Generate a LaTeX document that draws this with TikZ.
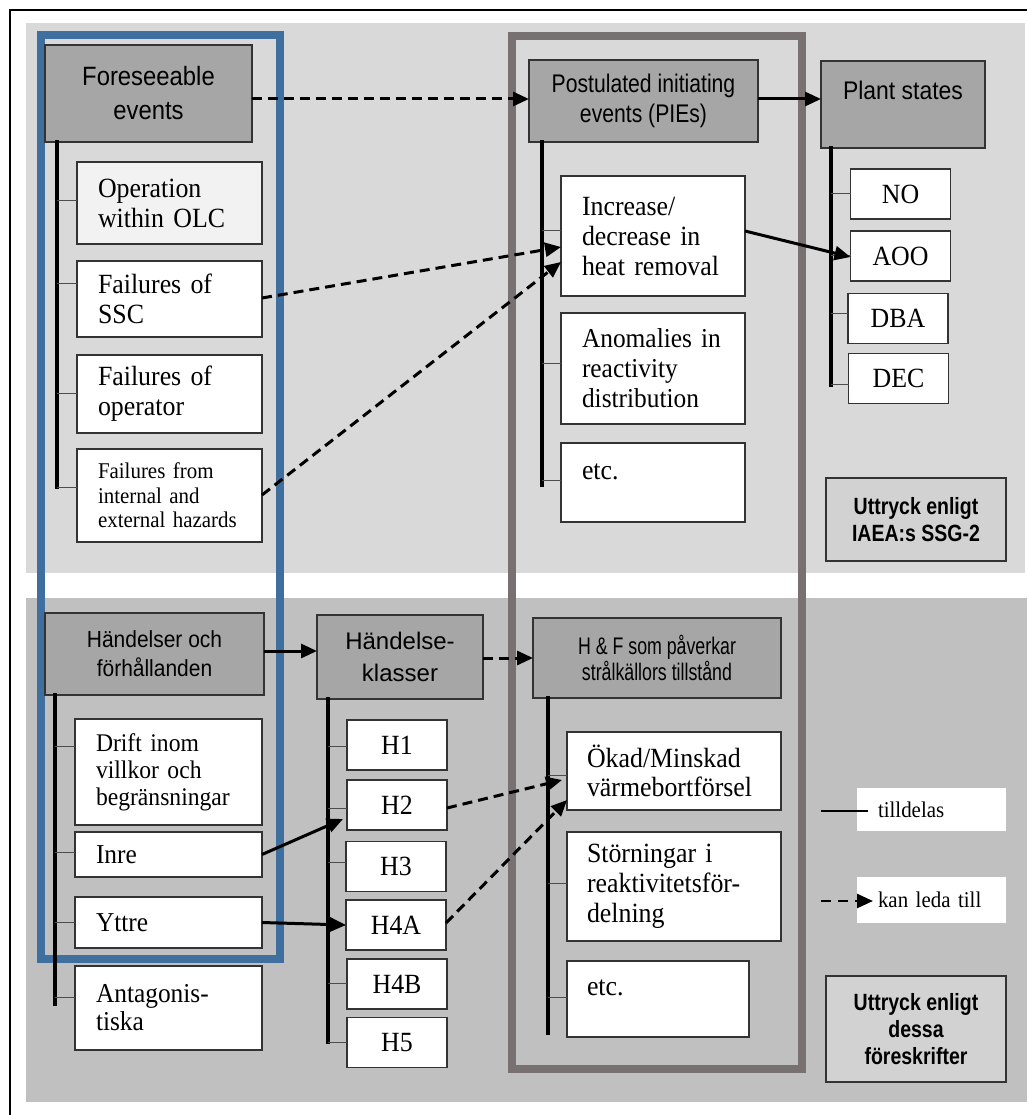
\documentclass[tikz,border=0pt]{standalone}
\usepackage{fontspec}
\setmainfont{Liberation Serif}[FakeStretch=0.93]
\setsansfont{Liberation Sans}
\newfontfamily\sfnine{Liberation Sans}[FakeStretch=0.9]
\newfontfamily\sfeight{Liberation Sans}[FakeStretch=0.83]
\newfontfamily\sfseven{Liberation Sans}[FakeStretch=0.74]
\usetikzlibrary{arrows.meta,calc}
\definecolor{panelA}{HTML}{D9D9D9}
\definecolor{panelB}{HTML}{C0C0C0}
\definecolor{hdr}{HTML}{A6A6A6}
\definecolor{notefill}{HTML}{D2D2D2}
\definecolor{offw}{HTML}{F2F2F2}
\definecolor{frameblue}{HTML}{3F6F9E}
\definecolor{framegray}{HTML}{777171}
\definecolor{edge}{HTML}{333333}
\newcommand\fsz[2]{\fontsize{#1}{#2}\selectfont}

\begin{document}
\begin{tikzpicture}[x=1pt,y=-1pt,
  box/.style={draw=edge, line width=1.4pt, inner sep=0pt, outer sep=0pt},
  head/.style={box, fill=hdr, align=center},
  leaf/.style={box, fill=white, inner xsep=21pt, align=left},
  hbox/.style={box, fill=white, minimum width=100pt, minimum height=50pt, font=\fsz{27.8}{30}},
  note/.style={box, fill=notefill, align=center, minimum width=180pt, font=\sfeight\bfseries\fsz{23.5}{27}},
  legend/.style={fill=white, inner xsep=21pt, inner ysep=0pt, text width=107pt, align=left, font=\fsz{22.5}{24}},
  trunk/.style={line width=3.5pt, line cap=rect},
  twig/.style={line width=1pt, draw=black!70},
  tip/.style={-{Triangle[length=16pt,width=14pt]}},
  arr/.style={line width=3pt, tip},
  darr/.style={arr, dash pattern=on 10pt off 6pt},
]
\useasboundingbox (0,0) rectangle (1027,1115);

% outer frame and the two panels
\draw[line width=2pt] (10,1115) -- (10,10) -- (1027,10);
\fill[panelA] (26,23) rectangle (1025,573);
\fill[panelB] (26,598) rectangle (1027,1102);

% grouping frames
\draw[frameblue, line width=8pt] (41,35) rectangle (280,959);
\draw[framegray, line width=8pt] (512,36) rectangle (802,1069);

% ---------- upper panel ----------
\node[head, minimum width=207pt, minimum height=97pt, font=\sfnine\fsz{26.5}{34}] (fore) at (148.5,93.5) {Foreseeable\\events};
\node[head, minimum width=229pt, minimum height=82pt, font=\sfeight\fsz{25.5}{30}] (pie) at (643.5,101) {Postulated initiating\\events (PIEs)};
\node[head, minimum width=164pt, minimum height=87pt, font=\sfnine\fsz{25.5}{28}, text height=18pt, text depth=27pt] (plant) at (903,104.5) {Plant states};

\node[leaf, fill=offw, text width=143pt, minimum height=82pt, font=\fsz{27.8}{30}] (opw) at (169.5,203) {Operation\\within OLC};
\node[leaf, text width=143pt, minimum height=76pt, font=\fsz{27.8}{30}] (ssc) at (169.5,299) {Failures of\\SSC};
\node[leaf, text width=143pt, minimum height=78pt, font=\fsz{27.8}{30}] (opr) at (169.5,394) {Failures of\\operator};
\node[leaf, text width=143pt, minimum height=93pt, font=\fsz{22.5}{24.5}] (haz) at (169.5,495.5) {Failures from\\internal and\\\mbox{external hazards}};

\node[leaf, text width=142pt, minimum height=120pt, font=\fsz{27.8}{30}] (inc) at (653,236) {Increase/\\decrease in\\heat removal};
\node[leaf, text width=142pt, minimum height=111pt, font=\fsz{27.3}{30}] (ano) at (653,368.5) {\mbox{Anomalies in}\\reactivity\\distribution};
\node[leaf, text width=142pt, minimum height=79pt, font=\fsz{27.8}{30}, text height=19pt, text depth=26pt] (etcA) at (653,482.5) {etc.};

\node[hbox] (no)  at (900.5,194) {NO};
\node[hbox] (aoo) at (900.5,256) {AOO};
\node[hbox] (dba) at (898,318.5) {DBA};
\node[hbox] (dec) at (898.5,378.5) {DEC};

\node[note, minimum height=83pt] (uttA) at (916,519.5) {Uttryck enligt\\IAEA:s SSG-2};

% trees of the upper panel
\draw[trunk] (fore.south -| 57,0) -- (57,487);
\foreach \n/\y in {opw/201, ssc/283, opr/393, haz/487}
  \draw[twig] (57,\y) -- (\n.west |- 0,\y);
\draw[trunk] (pie.south -| 542,0) -- (542,485);
\foreach \n/\y in {inc/231, ano/363, etcA/480}
  \draw[twig] (542,\y) -- (\n.west |- 0,\y);
\draw[trunk] (plant.south -| 831,0) -- (831,385);
\foreach \n/\y in {no/194, aoo/255, dba/313, dec/384}
  \draw[twig] (831,\y) -- (\n.west |- 0,\y);

% ---------- lower panel ----------
\node[head, minimum width=219pt, minimum height=82pt, font=\sfnine\fsz{23.3}{29}] (hf) at (154.5,654) {Händelser och\\förhållanden};
\node[head, minimum width=166pt, minimum height=84pt, font=\sffamily\fsz{24}{32}] (hk) at (400,657) {Händelse-\\klasser};
\node[head, minimum width=248pt, minimum height=80pt, font=\sfseven\fsz{24}{26}] (hfs) at (657,658) {H \& F som påverkar\\strålkällors tillstånd};

\node[leaf, text width=145pt, minimum height=106pt, font=\fsz{25.4}{27}] (drift) at (168.5,772) {Drift inom\\villkor och\\begränsningar};
\node[leaf, text width=145pt, minimum height=45pt, font=\fsz{27.3}{30}] (inre) at (168.5,854.5) {Inre};
\node[leaf, text width=145pt, minimum height=51pt, font=\fsz{27.3}{30}] (yttre) at (168.5,922.5) {Yttre};
\node[leaf, text width=145pt, minimum height=84pt, font=\fsz{27.3}{28}] (anta) at (168.5,1008) {Antagonis-\\tiska};

\node[hbox] (h1)  at (397,745) {H1};
\node[hbox] (h2)  at (397,805) {H2};
\node[hbox] (h3)  at (396,866.5) {H3};
\node[hbox] (h4a) at (396,925) {H4A};
\node[hbox] (h4b) at (397,984) {H4B};
\node[hbox] (h5)  at (397,1042.5) {H5};

\node[leaf, inner xsep=20pt, text width=174pt, minimum height=78pt, font=\fsz{27.8}{29}] (okad) at (674,771) {Ökad/Minskad\\värmebortförsel};
\node[leaf, inner xsep=20pt, text width=174pt, minimum height=109pt, font=\fsz{27.8}{30}] (stor) at (674,886.5) {Störningar i\\reaktivitetsför-\\delning};
\node[leaf, inner xsep=20pt, text width=142pt, minimum height=76pt, font=\fsz{27.8}{30}, text height=19pt, text depth=27pt] (etcB) at (658,999) {etc.};

\node[note, minimum height=106pt] (uttB) at (916,1029) {Uttryck enligt\\dessa\\föreskrifter};

% trees of the lower panel
\draw[trunk] (hf.south -| 55,0) -- (55,1004);
\foreach \n/\y in {drift/746, inre/852, yttre/922, anta/997}
  \draw[twig] (55,\y) -- (\n.west |- 0,\y);
\draw[trunk] (hk.south -| 328,0) -- (328,1042);
\foreach \n/\y in {h1/746, h2/808, h3/862, h4a/925, h4b/983, h5/1042}
  \draw[twig] (328,\y) -- (\n.west |- 0,\y);
\draw[trunk] (hfs.south -| 548,0) -- (548,1033);
\foreach \n/\y in {okad/775, stor/883, etcB/997}
  \draw[twig] (548,\y) -- (\n.west |- 0,\y);

% legend
\node[legend, minimum height=43pt] (lg1) at (931.5,809.5) {tilldelas};
\node[legend, minimum height=46pt] (lg2) at (931.5,900) {kan leda till};
\coordinate (la1) at (821,811);
\coordinate (la2) at (868,811);
\coordinate (lb1) at (821,901);
\coordinate (lb2) at (873,901);
\draw[line width=2.2pt] (la1) -- (la2);
\draw[darr, line width=2.5pt, dash pattern=on 10pt off 7pt] (lb1) -- (lb2);

% connectors
\draw[darr] (fore.east |- 0,99) -- (pie.west |- 0,99);
\draw[arr] (pie.east |- 0,99) -- (plant.west |- 0,99);
\draw[darr] (ssc.east |- 0,298) -- (inc.west |- 0,247);
\draw[darr] (haz.east |- 0,495) -- (inc.west |- 0,262);
\draw[arr] (inc.east |- 0,231) -- (aoo.west |- 0,257);

\draw[arr] (hf.east |- 0,651) -- (hk.west |- 0,651);
\draw[darr] (hk.east |- 0,658) -- (hfs.west |- 0,658);
\draw[arr] (inre.east) -- ([xshift=-4pt]h2.west |- 0,819);
\draw[arr] (yttre.east) -- (h4a.west |- 0,925);
\draw[darr] (h2.east |- 0,808) -- ([xshift=-5pt]okad.west |- 0,780);
\draw[darr] (h4a.east |- 0,923) -- (okad.west |- 0,800);
\end{tikzpicture}
\end{document}
